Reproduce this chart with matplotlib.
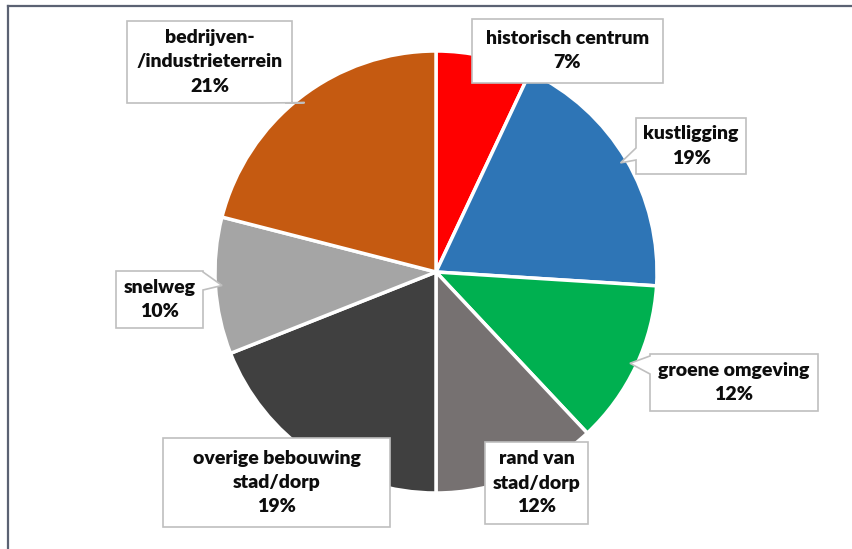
import numpy as np
import matplotlib
matplotlib.use("Agg")
import matplotlib.pyplot as plt
from matplotlib.patches import Polygon
from matplotlib.lines import Line2D

# data
labels = ["historisch centrum", "kustligging", "groene omgeving", "rand van\nstad/dorp",
          "overige bebouwing\nstad/dorp", "snelweg", "bedrijven-\n/industrieterrein"]
shares = [7, 19, 12, 12, 19, 10, 21]
colors = ["#FF0000", "#2E75B6", "#00B050", "#767171", "#404040", "#A5A5A5", "#C55A11"]

W, H = 852, 549
CX, CY, R = 436, 272, 221  # pie centre / radius in pixels (top-left origin)

# callout boxes: (x0, y0, x1, y1), side of pointer, pointer base along that side
boxes = [
    ((472, 19, 663, 83), None, None),
    ((636, 118, 746, 174), "left", (148, 160)),
    ((650, 354, 818, 411), "left", (356, 374)),
    ((485, 442, 588, 524), None, None),
    ((163, 438, 390, 527), None, None),
    ((116, 271, 203, 328), "right", (272, 290)),
    ((127, 21, 292, 103), "bottom", (263, 285)),
]


def fy(y):
    return H - y


fig = plt.figure(figsize=(W / 100, H / 100), dpi=100)
ax = fig.add_axes([0, 0, 1, 1])

wedges, _ = ax.pie(shares, colors=colors, startangle=90, counterclock=False,
                   center=(CX, fy(CY)), radius=R,
                   wedgeprops=dict(edgecolor="white", linewidth=2.5))

for w, lab, val, (rect, side, base) in zip(wedges, labels, shares, boxes):
    x0, y0, x1, y1 = rect
    mid = np.deg2rad((w.theta1 + w.theta2) / 2)
    tx, ty = CX + R * 0.97 * np.cos(mid), CY - R * 0.97 * np.sin(mid)
    pts = [(x0, y0), (x1, y0)]
    if side == "right":
        pts += [(x1, base[0]), (tx, ty), (x1, base[1])]
    pts += [(x1, y1)]
    if side == "bottom":
        pts += [(base[1], y1), (tx, ty), (base[0], y1)]
    pts += [(x0, y1)]
    if side == "left":
        pts += [(x0, base[1]), (tx, ty), (x0, base[0])]
    poly = Polygon([(px, fy(py)) for px, py in pts], closed=True,
                   facecolor="white", edgecolor="#BFBFBF", linewidth=1.2, zorder=5)
    ax.add_patch(poly)
    ax.text((x0 + x1) / 2, fy((y0 + y1) / 2), f"{lab}\n{val}%", ha="center", va="center",
            fontsize=14, fontweight="heavy", family="Lato", color="#0D0D0D",
            linespacing=1.5, zorder=6)

ax.set_xlim(0, W)
ax.set_ylim(0, H)
ax.set_aspect("equal")
ax.axis("off")

# outer frame (top and left edges only visible)
fig.add_artist(Line2D([8 / W, 1], [1 - 5.5 / H, 1 - 5.5 / H], color="#5B6273", linewidth=1.6))
fig.add_artist(Line2D([8 / W, 8 / W], [0, 1 - 5.5 / H], color="#5B6273", linewidth=1.6))

fig.savefig("out.png", dpi=100)
plt.close(fig)
